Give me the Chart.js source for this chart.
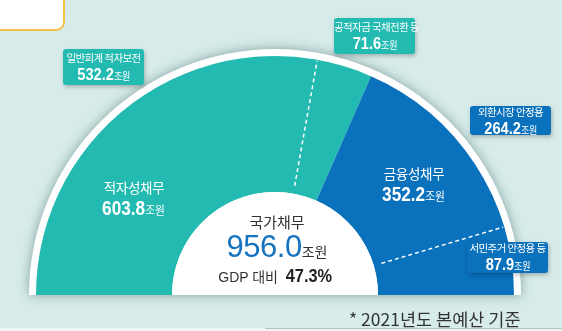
<!DOCTYPE html>
<html><head><meta charset="utf-8">
<script src="https://cdn.jsdelivr.net/npm/chart.js@4/dist/chart.umd.min.js"></script>
<style>
html,body{margin:0;padding:0;}
body{width:562px;height:331px;overflow:hidden;background:#d7ecea;position:relative;font-family:"Noto Sans CJK KR",sans-serif;}
#wrap{position:absolute;left:0;top:0;width:562px;height:331px;}
.abs{position:absolute;white-space:nowrap;}
.box{position:absolute;color:#fff;text-align:center;border-radius:3px;box-shadow:1px 2px 4px rgba(0,0,0,0.25);width:81px;box-sizing:border-box;white-space:nowrap;}
.teal{background:#22bab1;}
.blue{background:#0a71bc;}
.l1{font-size:10.5px;line-height:12px;letter-spacing:-0.6px;display:block;}
.l2{display:block;line-height:18px;}
.sq{display:inline-block;transform:scaleX(0.86);}
.num{font-family:"Liberation Sans",sans-serif;font-weight:bold;}
.bn{font-size:17px;}
.unit{font-size:10.5px;letter-spacing:-0.3px;}
.lab{color:#fff;text-align:center;width:120px;}
.lab .t{display:block;font-size:13.5px;line-height:18px;letter-spacing:-0.3px;}
.lab .v{display:block;line-height:24px;}
.lab .v .num{font-size:20px;}
.lab .v .u{font-size:12.5px;}
#topbox{position:absolute;left:-10px;top:-10px;width:71px;height:37px;background:#fff;border:2.5px solid #f4c045;border-radius:9px;}
#center{position:absolute;left:197px;width:160px;text-align:center;color:#333;}
</style></head>
<body>
<div id="topbox"></div>
<div id="wrap"><canvas id="c" width="562" height="331"></canvas></div>

<div class="box teal" id="b0" style="left:63px;top:49px;height:36px;"></div>
<div class="box teal" id="b1" style="left:334px;top:18px;height:36px;"></div>
<div class="box blue" id="b2" style="left:470px;top:106px;height:29px;"></div>
<div class="box blue" id="b3" style="left:467px;top:242px;height:31px;"></div>

<div class="abs lab" id="lab0" style="left:74px;top:178px;"></div>
<div class="abs lab" id="lab1" style="left:354px;top:164px;"></div>

<div id="center" style="top:211px;">
  <div id="ct" style="font-size:15px;line-height:22px;"></div>
  <div style="line-height:28px;"><span id="cv" style="font-family:'Liberation Sans',sans-serif;font-size:31px;color:#1673c0;letter-spacing:-0.5px;"></span><span style="font-size:14px;">조원</span></div>
  <div style="line-height:20px;"><span style="font-size:14px;font-family:'Liberation Sans','Noto Sans CJK KR',sans-serif;">GDP 대비 </span><span class="sq"><span id="cg" class="num" style="font-size:19px;color:#222;"></span></span></div>
</div>

<div class="abs" id="foot" style="left:349px;top:307px;font-size:17.5px;line-height:24px;color:#333;"></div>
<div class="abs" style="left:0;top:328px;width:562px;height:3px;background:#eef6f5;"></div>
<div class="abs" style="left:265px;top:328px;width:297px;height:1px;background:#b9c2c2;"></div>

<script>
// ---- data ----
const categories = ['적자성채무', '금융성채무'];
const values = [603.8, 352.2];
const subLabels = ['일반회계 적자보전', '공적자금 국채전환 등', '외환시장 안정용', '서민주거 안정용 등'];
const subValues = [532.2, 71.6, 264.2, 87.9];
const totalLabel = '국가채무';
const totalValue = 956.0;
const gdpRatio = 47.3;
const footnote = '* 2021년도 본예산 기준';
const unit = '조원';

const tealColor = '#22bab1';
const blueColor = '#0a71bc';

// ---- texts ----
const padTop = [3, 3, 0, 0];
subLabels.forEach((s, i) => {
  const el = document.getElementById('b' + i);
  el.style.paddingTop = padTop[i] + 'px';
  el.innerHTML = '<span class="l1">' + s + '</span><span class="l2"><span class="sq"><span class="num bn">' +
    subValues[i].toFixed(1) + '</span><span class="unit">' + unit + '</span></span></span>';
});
categories.forEach((c, i) => {
  document.getElementById('lab' + i).innerHTML = '<span class="t">' + c + '</span><span class="v"><span class="sq"><span class="num">' +
    values[i].toFixed(1) + '</span><span class="u">' + unit + '</span></span></span>';
});
document.getElementById('ct').textContent = totalLabel;
document.getElementById('cv').textContent = totalValue.toFixed(1);
document.getElementById('cg').textContent = gdpRatio.toFixed(1) + '%';
document.getElementById('foot').textContent = footnote;

// ---- chart ----
const RING_OUTER = 239, BORDER = 7, HOLE = 103;
const decor = {
  id: 'decor',
  beforeDatasetsDraw(chart) {
    const ctx = chart.ctx;
    const a = chart.getDatasetMeta(0).data[0];
    ctx.save();
    ctx.shadowColor = 'rgba(0,50,50,0.4)';
    ctx.shadowBlur = 12;
    ctx.beginPath();
    ctx.moveTo(a.x, a.y);
    ctx.arc(a.x, a.y, a.outerRadius + BORDER, Math.PI, 2 * Math.PI);
    ctx.closePath();
    ctx.fillStyle = '#fff';
    ctx.fill();
    ctx.restore();
  },
  afterDatasetsDraw(chart) {
    const ctx = chart.ctx;
    const meta = chart.getDatasetMeta(0);
    const a0 = meta.data[0], a1 = meta.data[1];
    ctx.save();
    ctx.beginPath();
    ctx.moveTo(a0.x, a0.y);
    ctx.arc(a0.x, a0.y, a0.innerRadius, a0.startAngle, a1.endAngle);
    ctx.closePath();
    ctx.fillStyle = '#fff';
    ctx.fill();
    const cuts = [
      a0.startAngle + (a0.endAngle - a0.startAngle) * subValues[0] / values[0],
      a1.startAngle + (a1.endAngle - a1.startAngle) * subValues[2] / values[1]
    ];
    ctx.strokeStyle = '#fff';
    ctx.lineWidth = 1.5;
    ctx.setLineDash([4, 3]);
    cuts.forEach(ang => {
      const r1 = a0.innerRadius + 8, r2 = a0.outerRadius - 1;
      ctx.beginPath();
      ctx.moveTo(a0.x + r1 * Math.cos(ang), a0.y + r1 * Math.sin(ang));
      ctx.lineTo(a0.x + r2 * Math.cos(ang), a0.y + r2 * Math.sin(ang));
      ctx.stroke();
    });
    ctx.restore();
  }
};

new Chart(document.getElementById('c'), {
  type: 'doughnut',
  data: {
    labels: categories,
    datasets: [
      { data: values, backgroundColor: [tealColor, blueColor], borderWidth: 0 }
    ]
  },
  options: {
    responsive: false,
    maintainAspectRatio: false,
    devicePixelRatio: 1,
    animation: false,
    rotation: -90,
    circumference: 180,
    radius: RING_OUTER,
    cutout: (HOLE / RING_OUTER * 100) + '%',
    layout: { padding: { left: 29, right: 41, top: 55, bottom: 35 } },
    plugins: { legend: { display: false }, tooltip: { enabled: false } }
  },
  plugins: [decor]
});
</script>
</body></html>
